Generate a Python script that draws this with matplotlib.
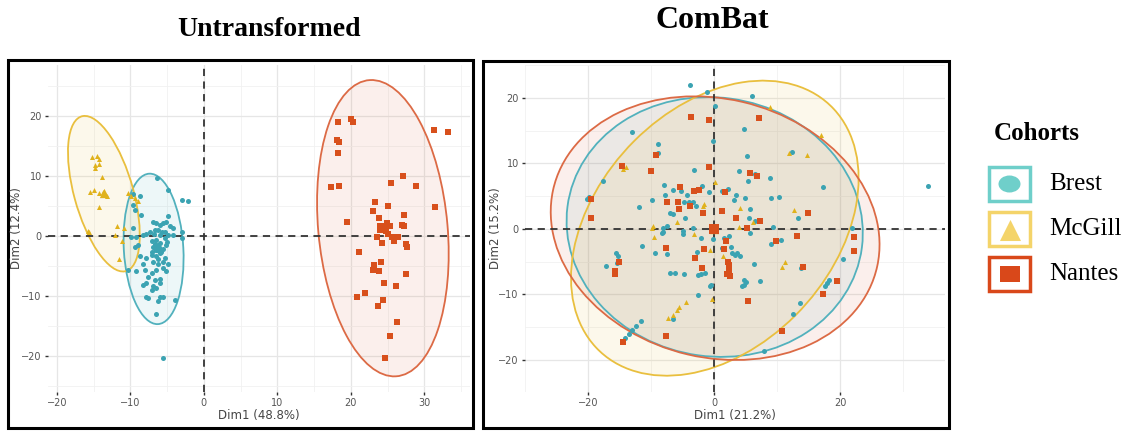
"""
PCA of radiomic features by cohort: untransformed vs ComBat
"""

import numpy as np
import matplotlib
matplotlib.use("Agg")
import matplotlib.pyplot as plt
from matplotlib.patches import Ellipse, Rectangle

cohorts = ["Brest", "McGill", "Nantes"]
point_colors = ["#3BA3B2", "#E0B21C", "#D8501C"]
line_colors = ["#52B1BD", "#E9BF3E", "#DC6A45"]
legend_colors = ["#6FCFCA", "#F4D46A", "#D9481A"]
markers = ["o", "^", "s"]

# ---- Untransformed PCA (Dim1 48.8%, Dim2 12.4%) ----
untr_brest = np.array([
    (-6.35, 9.7), (-4.86, 7.7), (-3.04, 6.0), (-2.14, 5.9), (-9.62, 7.0), (-8.71, 6.6),
    (-9.62, 5.2), (-9.39, 4.3), (-8.49, 3.5), (-6.90, 2.4), (-6.45, 2.1), (-6.0, 1.8),
    (-5.54, 2.1), (-5.09, 2.4), (-4.86, 3.3), (-4.63, 1.6), (-4.18, 1.3), (-6.67, 1.0),
    (-7.35, 0.7), (-6.22, 1.0), (-5.76, 0.7), (-5.31, 0.6), (-7.81, 0.4), (-8.26, 0.2),
    (-9.17, -0.1), (-9.85, -0.1), (-9.62, 1.3), (-3.04, -0.4), (-2.91, 0.6), (-4.18, 0.2),
    (-4.86, 0.2), (-7.12, -0.9), (-6.45, -0.7), (-6.0, -1.2), (-6.90, -1.8), (-6.45, -2.3),
    (-5.54, -2.1), (-5.09, -1.5), (-6.0, -2.9), (-6.45, -3.4), (-7.12, -3.2), (-7.81, -3.7),
    (-6.90, -4.3), (-6.22, -4.6), (-5.31, -3.7), (-4.86, -4.6), (-5.54, -5.4), (-6.45, -5.7),
    (-7.12, -6.2), (-8.26, -4.6), (-8.03, -5.7), (-7.58, -6.8), (-6.67, -7.3), (-6.0, -7.1),
    (-5.09, -5.9), (-7.81, -7.9), (-6.90, -8.4), (-6.45, -8.7), (-7.12, -9.0), (-6.0, -7.9),
    (-8.26, -8.2), (-9.17, -5.9), (-7.58, -10.4), (-7.81, -10.2), (-6.22, -10.9), (-6.0, -10.1),
    (-5.54, -10.1), (-3.95, -10.7), (-6.45, -13.0), (-5.54, -20.4), (-10.3, -5.7), (-8.94, -1.5),
    (-9.39, -1.8), (-8.71, -3.4), (-6.2, -1.5), (-5.8, -2.6), (-6.6, -1.4), (-5.3, -0.3),
    (-7.0, -2.6), (-6.3, -3.9), (-5.5, -4.3), (-6.8, 0.3), (-6.0, 0.1), (-5.0, -1.0),
])
untr_mcgill = np.array([
    (-15.15, 13.1), (-14.6, 13.3), (-14.2, 12.9), (-14.8, 11.8), (-14.2, 12.0), (-14.8, 11.3),
    (-13.9, 9.8), (-15.5, 7.4), (-14.9, 7.6), (-14.2, 7.2), (-13.7, 7.4), (-13.5, 7.0),
    (-13.2, 6.7), (-14.2, 4.8), (-15.8, 0.8), (-15.6, 0.6), (-11.8, 1.7), (-12.1, 0.1),
    (-11.2, -0.9), (-11.5, -3.9), (-10.3, 7.1), (-9.85, 6.6), (-9.3, 6.3), (-9.0, 5.9),
    (-10.8, 1.3),
])
untr_nantes = np.array([
    (18.28, 19.06), (20.0, 19.45), (20.32, 19.06), (18.14, 16.0), (18.41, 15.7), (18.23, 13.9),
    (31.29, 17.7), (33.15, 17.3), (17.23, 8.1), (18.37, 8.3), (25.44, 8.9), (27.07, 9.95),
    (28.89, 8.4), (23.31, 5.6), (25.08, 5.0), (23.04, 4.2), (31.43, 4.8), (23.76, 3.06),
    (27.26, 3.5), (19.5, 2.4), (24.85, 2.2), (25.3, 1.7), (24.4, 1.56), (26.9, 1.8),
    (27.26, 1.7), (23.58, -0.1), (24.17, -1.1), (25.53, -0.1), (25.85, -0.8), (26.44, -0.2),
    (27.48, -1.3), (27.66, -1.9), (21.13, -2.7), (24.08, -4.3), (23.13, -4.9), (23.04, -5.7),
    (23.81, -5.8), (27.48, -6.4), (24.44, -7.9), (26.17, -8.3), (21.9, -9.5), (20.86, -10.2),
    (24.4, -10.6), (23.63, -11.7), (26.3, -14.4), (25.26, -16.6), (24.58, -20.3), (24.8, 0.8),
    (23.9, 1.2), (25.1, 0.3),
])
untr_means = [(-6.4, -2.0), (-13.6, 7.2), (24.2, 1.3)]
# ellipses: centre x, centre y, width, height, angle (deg)
untr_ellipses = [(-6.84, -2.15, 25.1, 8.1, 92.6),
                 (-13.6, 7.05, 26.5, 8.1, 102.5),
                 (24.35, 1.3, 49.5, 17.6, 94.1)]

# ---- ComBat PCA (Dim1 21.2%, Dim2 15.2%) ----
combat_brest = np.array([
    (-3.79, 21.98), (-1.14, 20.86), (0.16, 18.7), (-13.07, 14.76), (-8.97, 12.97), (-8.97, 11.55),
    (-17.59, 7.33), (-3.22, 9.0), (-19.92, 4.9), (-20.13, 4.6), (-11.93, 3.36), (-9.86, 4.43),
    (-7.88, 6.72), (-7.78, 5.1), (-7.0, 2.39), (-6.49, 2.24), (-6.59, 5.95), (-5.34, 5.7),
    (-4.25, 5.19), (-4.82, 4.17), (-4.05, 4.17), (-3.32, 4.02), (-2.9, 3.51), (-2.49, 5.95),
    (-1.97, 6.46), (-0.78, 5.6), (-0.26, 13.33), (-4.67, 1.63), (-8.04, 0.1), (-7.52, 0.4),
    (-4.93, -0.3), (-3.3, 0.2),
    (5.97, 20.3), (4.77, 15.2), (5.19, 11.14), (12.35, 11.7), (3.99, 8.85), (5.34, 7.33),
    (6.49, 8.34), (8.92, 7.73), (17.2, 6.41), (33.88, 6.56), (1.3, 5.8), (2.18, 6.1),
    (3.48, 5.09), (3.22, 4.43), (4.83, 4.78), (9.08, 4.78), (10.27, 4.88), (5.71, 3.0),
    (5.45, 1.63), (6.49, 1.12), (9.34, 0.35), (13.33, 1.63), (21.89, 0.1),
    (-8.04, -0.41), (-8.3, -0.66), (-11.41, -2.6), (-9.44, -3.72), (-7.42, -3.87), (-15.56, -3.72),
    (-15.3, -4.22), (-15.41, -5.14), (-17.12, -5.65), (-7.0, -6.67), (-6.22, -6.77), (-4.77, -6.87),
    (-2.59, -7.02), (-2.07, -6.92), (-1.45, -6.77), (-2.7, -3.51), (-2.07, -1.43), (-4.93, -0.76),
    (-0.62, -8.65), (-2.49, -10.13), (-11.57, -14.0), (-12.45, -14.81), (-12.97, -15.42),
    (-13.49, -16.03), (-14.11, -16.69), (-6.49, -13.79),
    (5.71, -0.66), (9.08, -2.29), (9.86, -1.93), (10.64, -1.78), (1.56, -1.43), (2.33, -1.17),
    (-0.26, -1.58), (1.3, -2.95), (2.59, -2.7), (2.85, -3.71), (3.37, -3.97), (4.15, -4.22),
    (3.63, -3.71), (6.38, -5.39), (7.26, -7.94), (4.67, -7.79), (5.08, -8.04), (4.67, -8.55),
    (4.41, -8.8), (-0.52, -8.55), (13.75, -6.01), (20.49, -4.63), (18.16, -7.79), (17.9, -8.3),
    (17.64, -8.8), (13.64, -11.25), (12.45, -13.03), (7.94, -18.58),
])
combat_mcgill = np.array([
    (-14.4, 9.2), (-14.0, 9.5), (-1.56, 3.77), (-1.81, 3.41), (-5.91, 0.97), (-9.86, 0.2),
    (0.1, 7.2), (8.92, 18.52), (16.97, 14.25), (11.83, 11.5), (14.68, 11.2), (4.05, 3.15),
    (12.61, 2.9), (6.12, 1.02), (3.89, 0.35), (-9.75, 0.46), (-9.6, -1.27), (-3.22, -0.76),
    (-0.67, -3.2), (-0.41, -10.74), (-4.51, -11.1), (-5.55, -11.96), (-5.97, -12.37),
    (-6.49, -13.13), (-7.26, -13.64), (1.45, -4.12), (11.15, -4.99), (10.74, -5.9),
])
combat_nantes = np.array([
    (-3.63, 16.99), (-0.88, 16.64), (-9.18, 11.2), (-10.01, 8.9), (-14.63, 9.52), (-19.56, 4.53),
    (-19.46, 1.63), (-5.45, 6.31), (-3.27, 5.7), (-2.33, 5.95), (-7.52, 4.07), (-5.81, 4.02),
    (-5.55, 3.05), (-3.79, 3.41), (-1.76, 2.39), (-0.78, 9.36), (7.16, 16.9), (5.71, 8.5),
    (6.85, 7.99), (1.66, 5.6), (1.3, 2.75), (3.53, 1.63), (7.26, 1.27), (5.19, 0.2),
    (14.94, 2.49), (-7.68, -2.9), (-15.04, -4.99), (-15.67, -6.51), (-15.67, -6.87), (-1.66, -3.1),
    (-3.01, -4.48), (-1.97, -6.0), (-7.68, -16.34), (-14.53, -17.3), (13.13, -1.17), (9.75, -1.93),
    (22.2, -1.32), (22.2, -3.36), (1.82, -1.93), (1.56, -3.1), (2.18, -5.09), (2.33, -5.5),
    (2.33, -6.26), (1.97, -6.87), (2.49, -7.18), (14.16, -5.75), (19.46, -7.94), (17.22, -9.92),
    (5.34, -10.94), (10.79, -15.57),
])
combat_means = [(0.0, 0.0), (0.0, 0.0), (0.0, 0.0)]
combat_ellipses = [(0.08, 0.28, 47.1, 39.5, -7.6),
                   (0.1, 0.1, 52.4, 36.9, 43.9),
                   (0.15, 0.1, 52.7, 39.5, -12.7)]

W, H = 1127, 432
fig = plt.figure(figsize=(W / 100, H / 100), dpi=100)
fig.patch.set_facecolor("white")

# full-figure overlay in pixel units for frames, titles and legend
bg = fig.add_axes([0, 0, 1, 1])
bg.set_xlim(0, W)
bg.set_ylim(H, 0)
bg.axis("off")

serif = "Liberation Serif"
bg.add_patch(Rectangle((8, 60), 465, 368, fill=False, ec="black", lw=2.2))
bg.add_patch(Rectangle((483, 61), 466, 367, fill=False, ec="black", lw=2.2))
bg.text(269, 30, "Untransformed", ha="center", va="center", family=serif,
        weight="bold", fontsize=20)
bg.text(712, 21, "ComBat", ha="center", va="center", family=serif,
        weight="bold", fontsize=23)

# legend
bg.text(1037, 133, "Cohorts", ha="center", va="center", family=serif,
        weight="bold", fontsize=18)
legend_y = [184, 229, 274]
for name, col, mk, ly in zip(cohorts, legend_colors, markers, legend_y):
    bg.add_patch(Rectangle((989, ly - 17), 41, 34, fill=False, ec=col, lw=2.5))
    if mk == "o":
        bg.add_patch(Ellipse((1009.5, ly), 22, 17, fc=col, ec="none"))
    elif mk == "^":
        bg.scatter([1009.5], [ly + 1], marker="^", s=230, color=col, linewidths=0)
    else:
        bg.add_patch(Rectangle((1000, ly - 8), 20, 16, fc=col, ec="none"))
    bg.text(1049, ly, name, ha="left", va="center", family=serif, fontsize=18)


def pca_panel(rect, px_label, groups, means, ellipses, xlim, ylim, xticks, yticks,
              xminor, yminor, xlabel, ylabel):
    ax = fig.add_axes(rect)
    ax.set_facecolor("none")
    for grp, ell, col, lcol in zip(groups, ellipses, point_colors, line_colors):
        cx, cy, w, h, ang = ell
        ax.add_patch(Ellipse((cx, cy), w, h, angle=ang, fc=lcol, alpha=0.1, ec="none", zorder=1))
        ax.add_patch(Ellipse((cx, cy), w, h, angle=ang, fill=False, ec=lcol, lw=1.3, zorder=2))
    ax.axhline(0, color="#333333", lw=1.3, ls=(0, (4, 3)), zorder=3)
    ax.axvline(0, color="#333333", lw=1.3, ls=(0, (4, 3)), zorder=3)
    for grp, mean, col, mk in zip(groups, means, point_colors, markers):
        ax.scatter(grp[:, 0], grp[:, 1], marker=mk, s=13, color=col, linewidths=0, zorder=4)
        ax.scatter([mean[0]], [mean[1]], marker=mk, s=45, color=col, linewidths=0, zorder=5)
    ax.set_xlim(*xlim)
    ax.set_ylim(*ylim)
    ax.set_xticks(xticks)
    ax.set_yticks(yticks)
    ax.set_xticks(xminor, minor=True)
    ax.set_yticks(yminor, minor=True)
    ax.grid(True, which="major", color="#E6E6E6", lw=0.9, zorder=0)
    ax.grid(True, which="minor", color="#F1F1F1", lw=0.6, zorder=0)
    ax.set_axisbelow(True)
    for sp in ax.spines.values():
        sp.set_visible(False)
    ax.tick_params(which="major", length=2.5, width=1, color="#333333",
                   labelsize=7, labelcolor="#555555", pad=2)
    ax.tick_params(which="minor", length=0)
    ax.set_xlabel(xlabel, fontsize=8.5, color="#444444")
    ax.set_ylabel(ylabel, fontsize=8.5, color="#444444")
    pw = rect[2] * W
    # y label anchor is its right edge (text rotated about its bottom)
    ax.yaxis.set_label_coords((px_label + 5 - rect[0] * W) / pw, 0.5)
    ax.xaxis.set_label_coords(0.5, -17 / (rect[3] * H))
    return ax


def frac(l, t, r, b):
    return [l / W, 1 - b / H, (r - l) / W, (b - t) / H]


pca_panel(frac(48, 65, 470, 392), 18, [untr_brest, untr_mcgill, untr_nantes], untr_means,
          untr_ellipses, (-21.2, 36.2), (-26.0, 28.5),
          [-20, -10, 0, 10, 20, 30], [-20, -10, 0, 10, 20],
          np.arange(-20, 40, 5), np.arange(-25, 30, 5),
          "Dim1 (48.8%)", "Dim2 (12.4%)")

pca_panel(frac(525, 65, 945, 392), 497, [combat_brest, combat_mcgill, combat_nantes], combat_means,
          combat_ellipses, (-28.8, 36.6), (-24.9, 25.0),
          [-20, 0, 20], [-20, -10, 0, 10, 20],
          [-30, -10, 10, 30], np.arange(-20, 30, 5),
          "Dim1 (21.2%)", "Dim2 (15.2%)")

fig.savefig("out.png", dpi=100)
